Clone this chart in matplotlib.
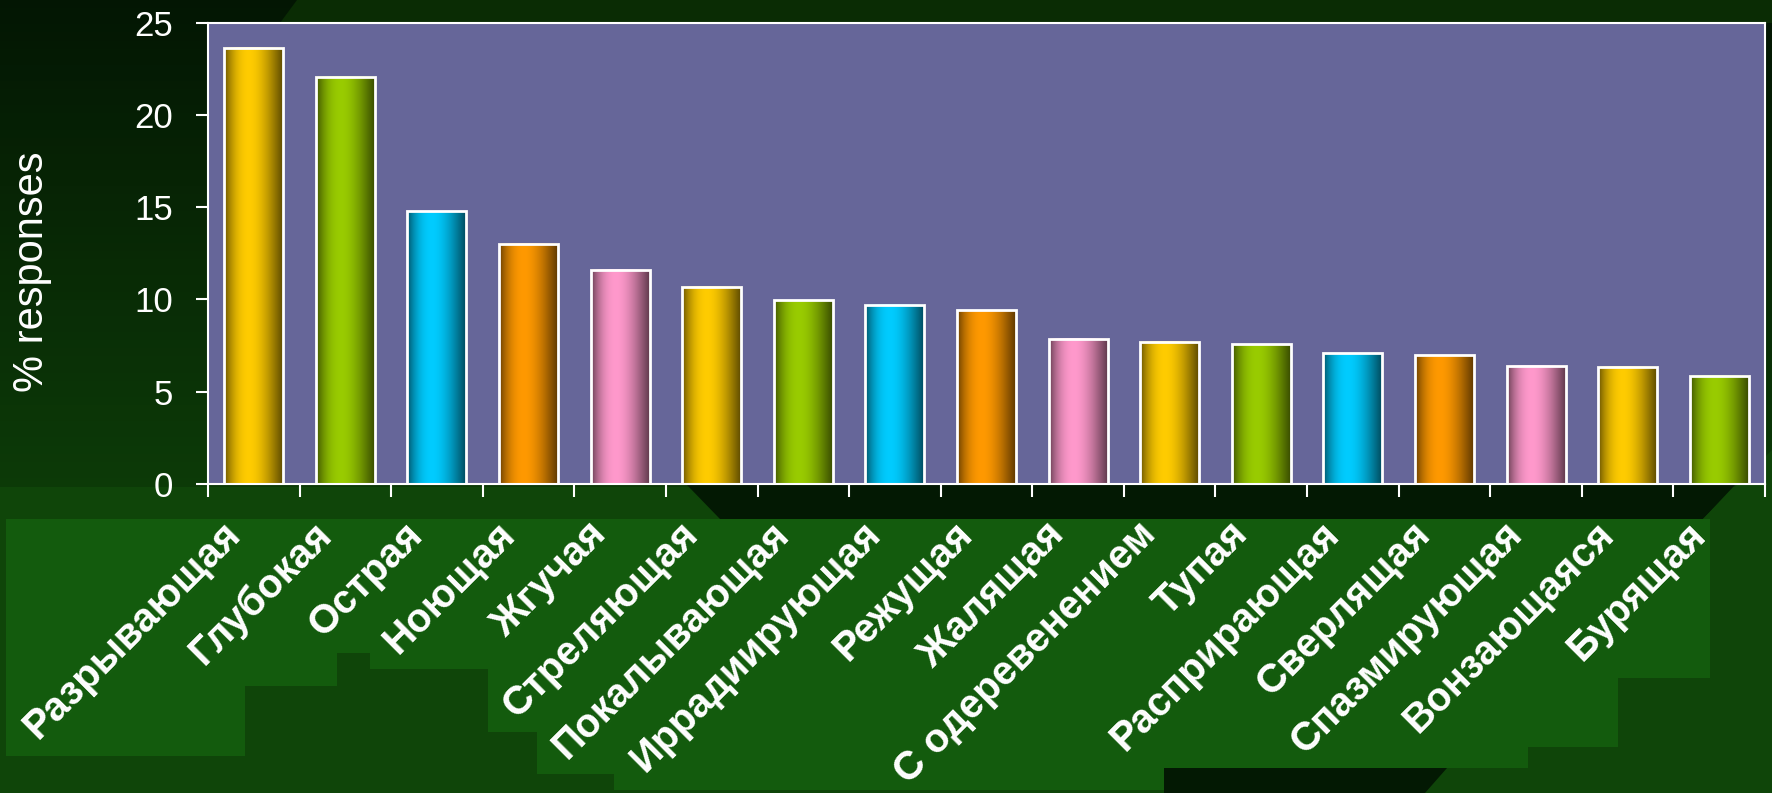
import numpy as np
import matplotlib
matplotlib.use('Agg')
import matplotlib.pyplot as plt
import matplotlib.transforms as mtransforms
from matplotlib.colors import to_rgb
from matplotlib.patches import Polygon, Rectangle

plt.rcParams['font.family'] = ['Liberation Sans', 'DejaVu Sans']

# data
labels = ["Разрывающая", "Глубокая", "Острая", "Ноющая", "Жгучая", "Стреляющая",
          "Покалывающая", "Иррадиирующая", "Режущая", "Жалящая", "С одеревенением",
          "Тупая", "Расприрающая", "Сверлящая", "Спазмирующая", "Вонзающаяся", "Бурящая"]
values = [23.65, 22.07, 14.79, 13.02, 11.61, 10.70, 9.96, 9.72, 9.41,
          7.88, 7.70, 7.58, 7.09, 6.97, 6.42, 6.36, 5.87]
palette = ['#FFCC00', '#99CC00', '#00CCFF', '#FF9900', '#FF99CC']
yticks = [0, 5, 10, 15, 20, 25]

W, H = 1772, 793
fig = plt.figure(figsize=(W / 100, H / 100), dpi=100)

# slide-like background, drawn in pixel coordinates (y downwards)
bg = fig.add_axes([0, 0, 1, 1], zorder=-10)
bg.set_xlim(0, W)
bg.set_ylim(H, 0)
bg.axis('off')
bg.add_patch(Rectangle((0, 0), W, H, color='#0F4509', lw=0))
c0, c1 = np.array(to_rgb('#031603')), np.array(to_rgb('#0C3A07'))
nb = 60
for i in range(nb):
    f = i / (nb - 1)
    bg.add_patch(Rectangle((0, 486 * i / nb), W, 486 / nb + 1, color=c0 + (c1 - c0) * f, lw=0))
bg.add_patch(Polygon([(297, 0), (W, 0), (W, 23), (280, 23)], color='#0A2C04', lw=0))
bg.add_patch(Polygon([(687, 485), (1735, 485), (1703, 519), (720, 519)], color='#031903', lw=0))
bg.add_patch(Polygon([(W, 450), (W, 519), (1703, 519)], color='#0F4509', lw=0))
panel = [(6, 519), (1710, 519), (1710, 678), (1618, 678), (1618, 747), (1528, 747),
         (1528, 768), (1164, 768), (1164, 790), (614, 790), (614, 774), (537, 774),
         (537, 732), (488, 732), (488, 669), (370, 669), (370, 653), (337, 653),
         (337, 686), (245, 686), (245, 756), (6, 756)]
bg.add_patch(Polygon(panel, color='#135B0D', lw=0))
bg.add_patch(Polygon([(1164, 768), (1447, 768), (1425, H), (1164, H)], color='#031903', lw=0))

# main chart
ax = fig.add_axes([208 / W, 1 - 484 / H, (1765 - 208) / W, (484 - 22.7) / H])
ax.set_facecolor('#666699')

x = np.arange(len(values))
bar_colors = [palette[i % len(palette)] for i in range(len(values))]
bars = ax.bar(x, values, width=0.644, color='none', edgecolor='white', linewidth=2, zorder=3)

# cylinder-like horizontal shading inside every bar
t = np.linspace(0, 1, 64)
shade = 0.38 + 0.62 * np.sin(np.pi * t ** 0.8)
for b, c in zip(bars, bar_colors):
    row = np.clip(np.array(to_rgb(c))[None, None, :] * shade[None, :, None], 0, 1)
    ax.imshow(row, extent=(b.get_x(), b.get_x() + b.get_width(), 0, b.get_height()),
              aspect='auto', interpolation='bilinear', zorder=2)

ax.set_xlim(-0.5, len(values) - 0.5)
ax.set_ylim(0, 25)

ax.set_xticks(np.arange(len(values) + 1) - 0.5)
ax.set_xticklabels([])
ax.set_xticks(x, labels, minor=True)
ax.tick_params(axis='x', which='major', direction='out', length=9, width=1.5, color='white')
ax.tick_params(axis='x', which='minor', length=0, pad=32)
ax.set_yticks(yticks)
ax.tick_params(axis='y', direction='out', length=9, width=1.5, color='white',
               labelcolor='white', labelsize=25, pad=16)

shift = mtransforms.ScaledTranslation(-0.20, 0, fig.dpi_scale_trans)
for lab in ax.get_xticklabels(minor=True):
    lab.set_rotation(45)
    lab.set_ha('right')
    lab.set_va('center')
    lab.set_rotation_mode('anchor')
    lab.set_fontsize(29)
    lab.set_fontweight('bold')
    lab.set_color('white')
    lab.set_transform(lab.get_transform() + shift)

for s in ax.spines.values():
    s.set_color('white')
    s.set_linewidth(1.5)

ax.text((32 - 208) / 1557, 0.46, '% responses', transform=ax.transAxes, rotation=90,
        ha='center', va='center', fontsize=30, color='white')

fig.savefig('out.png', dpi=100)
